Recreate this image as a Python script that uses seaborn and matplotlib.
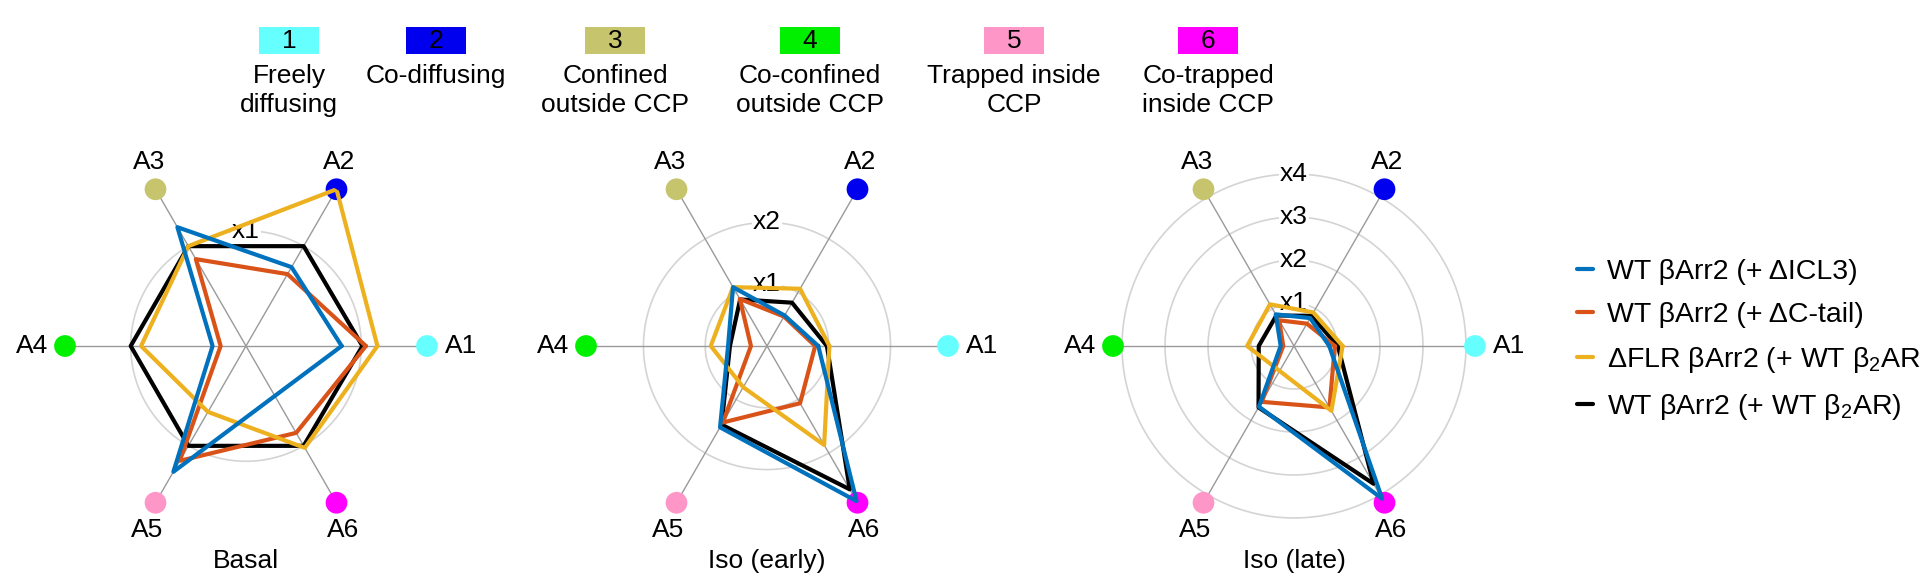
import numpy as np
import pandas as pd
import seaborn as sns
import matplotlib.pyplot as plt
from matplotlib.patches import Rectangle

# radar axes (diffusion states)
axis_labels = ["A1", "A2", "A3", "A4", "A5", "A6"]
axis_colors = ["#66ffff", "#0000ee", "#c6c46c", "#00f000", "#ff96c8", "#ff00ff"]
state_numbers = ["1", "2", "3", "4", "5", "6"]
state_names = ["Freely\ndiffusing", "Co-diffusing", "Confined\noutside CCP",
               "Co-confined\noutside CCP", "Trapped inside\nCCP", "Co-trapped\ninside CCP"]

conditions = ["Basal", "Iso (early)", "Iso (late)"]
series_labels = ["WT βArr2 (+ ΔICL3)", "WT βArr2 (+ ΔC-tail)",
                 r"ΔFLR βArr2 (+ WT β$_\mathrm{2}$AR)", r"WT βArr2 (+ WT β$_\mathrm{2}$AR)"]
series_colors = ["#0072bd", "#d95319", "#edb120", "#000000"]

# fold change vs WT, values on A1..A6
basal_dicl3 = [0.83, 0.79, 1.19, 0.29, 1.26, 0.50]
basal_dctail = [1.04, 0.72, 0.87, 0.22, 1.15, 0.87]
basal_dflr = [1.14, 1.57, 1.00, 0.91, 0.66, 1.02]
basal_wt = [1.01, 1.00, 1.00, 1.00, 1.00, 1.00]

early_dicl3 = [0.83, 0.57, 1.10, 0.63, 1.52, 2.90]
early_dctail = [0.78, 0.55, 0.88, 0.26, 1.43, 1.07]
early_dflr = [1.01, 1.07, 1.10, 0.91, 0.77, 1.85]
early_wt = [0.97, 0.81, 0.87, 0.60, 1.47, 2.68]

late_dicl3 = [0.82, 0.75, 0.85, 0.31, 1.63, 4.10]
late_dctail = [0.95, 0.60, 0.69, 0.25, 1.50, 1.65]
late_dflr = [1.13, 0.90, 1.12, 1.09, 0.67, 1.74]
late_wt = [1.02, 0.81, 0.82, 0.82, 1.65, 3.70]

panel_values = [
    [basal_dicl3, basal_dctail, basal_dflr, basal_wt],
    [early_dicl3, early_dctail, early_dflr, early_wt],
    [late_dicl3, late_dctail, late_dflr, late_wt],
]
ring_levels = [[1], [1, 2], [1, 2, 3, 4]]
panel_rmax = [1.57, 2.93, 4.21]

sns.set_theme(style="white")
plt.rcParams["font.family"] = ["Liberation Sans", "DejaVu Sans"]
plt.rcParams["text.color"] = "black"
plt.rcParams["mathtext.fontset"] = "custom"
plt.rcParams["mathtext.rm"] = "Liberation Sans"
plt.rcParams["mathtext.it"] = "Liberation Sans:italic"

W, H = 1920, 585
fig = plt.figure(figsize=(W / 100, H / 100), dpi=100)

theta = np.deg2rad([0, 60, 120, 180, 240, 300])
centers_x = [246, 767, 1294]
center_y = 346
rad_px = 181
fs = 19

palette = dict(zip(series_labels, series_colors))
draw_order = [series_labels[3], series_labels[1], series_labels[2], series_labels[0]]

label_offsets = [(18, 0, "left"), (3, 27, "center"), (-6, 27, "center"),
                 (-17, 0, "right"), (-8, -27, "center"), (7, -27, "center")]

axes = []
for k, cond in enumerate(conditions):
    cx = centers_x[k]
    ax = fig.add_axes([(cx - rad_px) / W, (H - center_y - rad_px) / H,
                       2 * rad_px / W, 2 * rad_px / H], projection="polar")
    axes.append(ax)
    R = panel_rmax[k]

    rows = []
    for name, vals in zip(series_labels, panel_values[k]):
        for t, v in zip(list(theta) + [2 * np.pi], vals + vals[:1]):
            rows.append({"theta": t, "r": v, "series": name})
    df = pd.DataFrame(rows)

    # rings and spokes
    tt = np.linspace(0, 2 * np.pi, 361)
    for lv in ring_levels[k]:
        ax.plot(tt, np.full_like(tt, lv), color="#d4d4d4", lw=1.2, zorder=1)
        ax.text(np.pi / 2, lv, f"x{lv}", ha="center", va="center", fontsize=fs,
                zorder=1.6, bbox=dict(fc="white", ec="none", pad=0.5))
    for t in theta:
        ax.plot([t, t], [0, R], color="#9a9a9a", lw=1, zorder=1.2)
    ax.scatter(theta, [R] * 6, s=245, c=axis_colors, linewidths=0,
               clip_on=False, zorder=2)

    sns.lineplot(data=df, x="theta", y="r", hue="series", hue_order=draw_order,
                 palette=palette, sort=False, estimator=None, linewidth=3,
                 ax=ax, legend=(k == 0), zorder=3)

    for t, lab, (dx, dy, ha) in zip(theta, axis_labels, label_offsets):
        ax.annotate(lab, xy=(t, R), xytext=(dx, dy), textcoords="offset pixels",
                    ha=ha, va="center", fontsize=fs, annotation_clip=False)
    ax.annotate(cond, xy=(0, 0), xytext=(0, -215), textcoords="offset pixels",
                ha="center", va="center", fontsize=fs, annotation_clip=False)

    ax.set_ylim(0, R)
    ax.set_xticks([])
    ax.set_yticks([])
    ax.grid(False)
    ax.spines["polar"].set_visible(False)
    ax.set_xlabel("")
    ax.set_ylabel("")
    ax.patch.set_alpha(0)

# series legend on the right
handles, labels = axes[0].get_legend_handles_labels()
axes[0].get_legend().remove()
lookup = dict(zip(labels, handles))
fig.legend([lookup[s] for s in series_labels], series_labels, loc="upper left",
           bbox_to_anchor=(1577 / W, 1 - 259 / H), frameon=False, fontsize=20.5,
           handlelength=0.55, handletextpad=0.5, labelspacing=0.6,
           borderpad=0, borderaxespad=0)

# colour key of the states on top
key_ax = fig.add_axes([0, 0, 1, 1], zorder=-1)
key_ax.set_xlim(0, W)
key_ax.set_ylim(H, 0)
key_ax.axis("off")
key_x = [289, 436, 615, 810, 1014, 1208]
for x, num, name, col in zip(key_x, state_numbers, state_names, axis_colors):
    key_ax.add_patch(Rectangle((x - 30, 27), 60, 27, color=col, lw=0))
    key_ax.text(x, 41, num, ha="center", va="center", fontsize=fs)
    key_ax.text(x, 64, name, ha="center", va="top", fontsize=fs,
                linespacing=1.25, multialignment="center")

fig.savefig("out.png", dpi=100)
